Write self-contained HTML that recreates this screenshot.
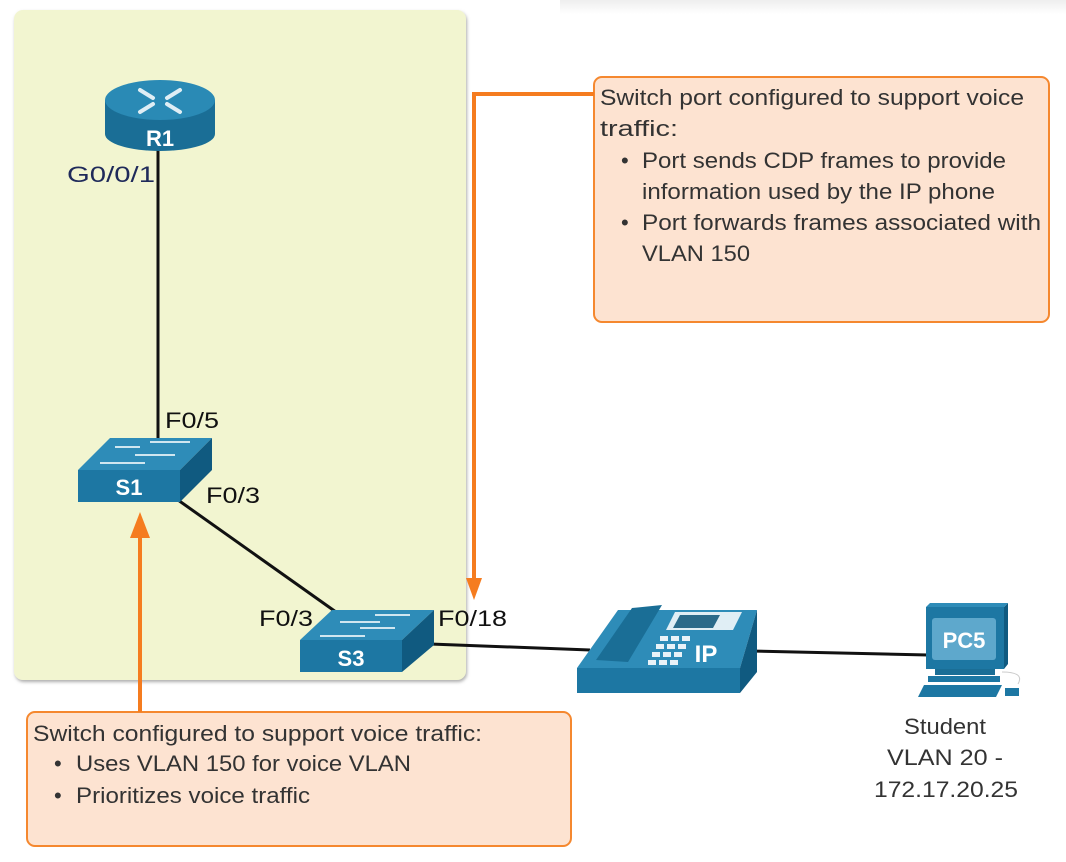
<!DOCTYPE html>
<html><head><meta charset="utf-8"><style>
html,body{margin:0;padding:0;background:#fff;width:1066px;height:862px;overflow:hidden}
text{font-family:"Liberation Sans",sans-serif}
</style></head><body>
<svg width="1066" height="862" viewBox="0 0 1066 862" xmlns="http://www.w3.org/2000/svg">
<defs>
<linearGradient id="topsh" x1="0" y1="0" x2="0" y2="1"><stop offset="0" stop-color="#eee"/><stop offset="1" stop-color="#fff"/></linearGradient>
<filter id="sh" x="-5%" y="-5%" width="110%" height="110%"><feDropShadow dx="1" dy="2" stdDeviation="1.5" flood-color="#777" flood-opacity="0.6"/></filter>
</defs>
<rect x="560" y="0" width="506" height="14" fill="url(#topsh)"/>
<rect x="14" y="10" width="452" height="670" rx="9" fill="#f2f5d0" filter="url(#sh)"/>

<g stroke="#111" stroke-width="3" fill="none">
<line x1="158" y1="150" x2="158" y2="455"/>
<line x1="178" y1="500" x2="336" y2="612"/>
<line x1="430" y1="644" x2="590" y2="650"/>
<line x1="750" y1="651" x2="928" y2="655"/>
</g>

<!-- router -->
<g>
<path d="M105 100 L105 134 A55 17 0 0 0 215 134 L215 100 Z" fill="#1a6e96"/>
<ellipse cx="160" cy="100" rx="55" ry="20" fill="#2a8ab5"/>
<g stroke="#dfeef5" stroke-width="4" stroke-linecap="round">
<line x1="140" y1="90" x2="153" y2="98"/><line x1="180" y1="90" x2="167" y2="98"/>
<line x1="140" y1="112" x2="153" y2="104"/><line x1="180" y1="112" x2="167" y2="104"/>
</g>
<text x="160" y="146" font-size="22" font-weight="bold" fill="#fff" text-anchor="middle">R1</text>
</g>

<!-- S1 -->
<g>
<polygon points="78,470 110,438 212,438 180,470" fill="#2e8cb8"/>
<polygon points="180,470 212,438 212,470 180,502" fill="#105a80"/>
<rect x="78" y="470" width="102" height="32" fill="#1d77a3"/>
<g stroke="#cfe6f0" stroke-width="2"><line x1="115" y1="447" x2="140" y2="447"/><line x1="150" y1="442" x2="190" y2="442"/><line x1="135" y1="455" x2="175" y2="455"/><line x1="100" y1="463" x2="145" y2="463"/></g>
<text x="129" y="495" font-size="22" font-weight="bold" fill="#fff" text-anchor="middle">S1</text>
</g>

<!-- S3 -->
<g>
<polygon points="300,640 332,610 434,610 402,640" fill="#2e8cb8"/>
<polygon points="402,640 434,610 434,645 402,672" fill="#105a80"/>
<rect x="300" y="640" width="102" height="32" fill="#1d77a3"/>
<g stroke="#cfe6f0" stroke-width="2"><line x1="375" y1="615" x2="410" y2="615"/><line x1="340" y1="622" x2="380" y2="622"/><line x1="360" y1="628" x2="395" y2="628"/><line x1="320" y1="636" x2="365" y2="636"/></g>
<text x="351" y="666" font-size="22" font-weight="bold" fill="#fff" text-anchor="middle">S3</text>
</g>

<!-- phone -->
<g>
<polygon points="577,668 618,610 757,610 740,668" fill="#2e8cb8"/>
<polygon points="740,668 757,610 757,672 740,693" fill="#105a80"/>
<rect x="577" y="668" width="163" height="25" fill="#1d77a3"/>
<polygon points="596,660 632,608 662,605 628,662" fill="#1a6e96"/>
<polygon points="675,612 742,612 733,630 666,630" fill="#e0eef5"/>
<polygon points="680,615 720,615 713,628 673,628" fill="#2a6a8a"/>
<g fill="#e8f2f8">
<rect x="660" y="636" width="8" height="5"/><rect x="671" y="636" width="8" height="5"/><rect x="682" y="636" width="8" height="5"/>
<rect x="656" y="644" width="8" height="5"/><rect x="667" y="644" width="8" height="5"/><rect x="678" y="644" width="8" height="5"/>
<rect x="652" y="652" width="8" height="5"/><rect x="663" y="652" width="8" height="5"/><rect x="674" y="652" width="8" height="5"/>
<rect x="648" y="660" width="8" height="5"/><rect x="659" y="660" width="8" height="5"/><rect x="670" y="660" width="8" height="5"/>
</g>
<text x="706" y="662" font-size="24" font-weight="bold" fill="#fff" text-anchor="middle">IP</text>
</g>

<!-- PC5 -->
<g>
<rect x="926" y="607" width="78" height="62" fill="#1d77a3"/>
<polygon points="1004,607 1008,603 1008,664 1004,669" fill="#105a80"/>
<polygon points="926,607 930,603 1008,603 1004,607" fill="#2e8cb8"/>
<rect x="932" y="618" width="64" height="42" rx="3" fill="#5ea8cc"/>
<text x="964" y="648" font-size="22" font-weight="bold" fill="#fff" text-anchor="middle">PC5</text>
<rect x="935" y="669" width="60" height="6" fill="#1a6e96"/>
<rect x="928" y="676" width="72" height="6" fill="#1d77a3"/>
<polygon points="918,697 924,685 1002,685 996,697" fill="#1d77a3"/>
<rect x="1005" y="688" width="14" height="8" fill="#1d77a3"/>
<path d="M1002 672 Q1025 672 1018 684" stroke="#ccc" fill="none"/>
</g>

<g font-size="22" fill="#111">
<text x="67" y="182" fill="#1f2a5a" textLength="88" lengthAdjust="spacingAndGlyphs">G0/0/1</text>
<text x="165" y="428" textLength="54" lengthAdjust="spacingAndGlyphs">F0/5</text>
<text x="206" y="503" textLength="54" lengthAdjust="spacingAndGlyphs">F0/3</text>
<text x="259" y="626" textLength="54" lengthAdjust="spacingAndGlyphs">F0/3</text>
<text x="438" y="626" textLength="69" lengthAdjust="spacingAndGlyphs">F0/18</text>
</g>

<rect x="594" y="77" width="455" height="245" rx="8" fill="#fde3d1" stroke="#f5882f" stroke-width="2"/>
<rect x="27" y="712" width="544" height="134" rx="8" fill="#fde3d1" stroke="#f5882f" stroke-width="2"/>

<g stroke="#f57c1f" stroke-width="4" fill="none">
<polyline points="594,94 474,94 474,580"/>
<line x1="140" y1="712" x2="140" y2="535"/>
</g>
<polygon points="466,578 482,578 474,600" fill="#f57c1f"/>
<polygon points="130,538 150,538 140,512" fill="#f57c1f"/>

<g font-size="22" fill="#333">
<text x="600" y="105" textLength="424" lengthAdjust="spacingAndGlyphs">Switch port configured to support voice</text>
<text x="600" y="136" textLength="78" lengthAdjust="spacingAndGlyphs">traffic:</text>
<text x="621" y="168">•</text><text x="642" y="168" textLength="364" lengthAdjust="spacingAndGlyphs">Port sends CDP frames to provide</text>
<text x="642" y="199" textLength="353" lengthAdjust="spacingAndGlyphs">information used by the IP phone</text>
<text x="621" y="230">•</text><text x="642" y="230" textLength="399" lengthAdjust="spacingAndGlyphs">Port forwards frames associated with</text>
<text x="642" y="261" textLength="108" lengthAdjust="spacingAndGlyphs">VLAN 150</text>

<text x="33" y="741" textLength="449" lengthAdjust="spacingAndGlyphs">Switch configured to support voice traffic:</text>
<text x="54" y="771">•</text><text x="76" y="771" textLength="335" lengthAdjust="spacingAndGlyphs">Uses VLAN 150 for voice VLAN</text>
<text x="54" y="803">•</text><text x="76" y="803" textLength="234" lengthAdjust="spacingAndGlyphs">Prioritizes voice traffic</text>

<text x="904" y="734" textLength="82" lengthAdjust="spacingAndGlyphs">Student</text>
<text x="887" y="765" textLength="116" lengthAdjust="spacingAndGlyphs">VLAN 20 -</text>
<text x="874" y="797" textLength="144" lengthAdjust="spacingAndGlyphs">172.17.20.25</text>
</g>
</svg>
</body></html>
